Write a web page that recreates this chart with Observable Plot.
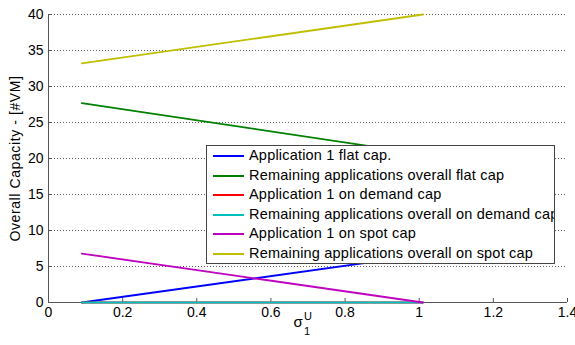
<!DOCTYPE html>
<html>
<head>
<meta charset="utf-8">
<script src="https://cdn.jsdelivr.net/npm/d3@7"></script>
<script src="https://cdn.jsdelivr.net/npm/@observablehq/plot@0.6"></script>
<style>
  html, body { margin: 0; padding: 0; background: #fff; }
  #wrap { position: relative; width: 575px; height: 345px; font-family: "Liberation Sans", Arial, sans-serif; }
  #legend { position: absolute; left: 206px; top: 145px; width: 347px; height: 117px;
    border: 1px solid #444; background: #fff; overflow: hidden; }
  .row { position: relative; height: 19.6px; line-height: 19.6px; white-space: nowrap; font-size: 14.5px; letter-spacing: 0.2px; color: #000; }
  .row .sw { position: absolute; left: 6px; top: 9px; width: 31px; height: 2px; }
  .row .lb { position: absolute; left: 42px; top: 0; }
</style>
</head>
<body>
<div id="wrap"><div id="legend"></div></div>
<script>
// ---- data ----
const sigmaX = [0.09, 1.01];
const seriesNames = [
  "Application 1 flat cap.",
  "Remaining applications overall flat cap",
  "Application 1 on demand cap",
  "Remaining applications overall on demand cap",
  "Application 1 on spot cap",
  "Remaining applications overall on spot cap"
];
const app1Flat = [0, 6.6];
const restFlat = [27.7, 20.6];
const app1OnDemand = [0, 0];
const restOnDemand = [0, 0];
const app1Spot = [6.8, 0];
const restSpot = [33.2, 40];
const seriesColors = ["#0000ff", "#008000", "#ff0000", "#00bfbf", "#bf00bf", "#bfbf00"];
const xTicks = [0, 0.2, 0.4, 0.6, 0.8, 1, 1.2, 1.4];
const yTicks = [0, 5, 10, 15, 20, 25, 30, 35, 40];
const yLabel = "Overall Capacity - [#VM]";

// ---- build table ----
const allSeries = [app1Flat, restFlat, app1OnDemand, restOnDemand, app1Spot, restSpot];
const rows = [];
allSeries.forEach((vals, i) => vals.forEach((v, j) => rows.push({series: seriesNames[i], x: sigmaX[j], y: v})));

const font = "'Liberation Sans', Arial, sans-serif";
const chart = Plot.plot({
  width: 575, height: 345,
  marginLeft: 48, marginRight: 8, marginTop: 14, marginBottom: 43,
  style: {fontFamily: font, fontSize: "14px", background: "white", color: "#000", overflow: "visible"},
  x: {domain: [0, 1.4], label: null},
  y: {domain: [0, 40], label: null},
  color: {domain: seriesNames, range: seriesColors},
  marks: [
    Plot.gridY(yTicks, {stroke: "#333", strokeOpacity: 0.8, strokeDasharray: "1,2"}),
    Plot.ruleY([0], {stroke: "#555"}),
    Plot.ruleX([0], {stroke: "#555"}),
    Plot.tickX(xTicks, {x: d => d, insetTop: 284, stroke: "#555"}),
    Plot.tickY(yTicks, {y: d => d, insetRight: 515, stroke: "#555"}),
    Plot.axisX(xTicks, {tickSize: 0, tickPadding: 5, tickFormat: d => String(d), fontSize: 14, label: null}),
    Plot.axisY(yTicks, {tickSize: 0, tickPadding: 5, tickFormat: d => String(d), fontSize: 14, label: null}),
    Plot.line(rows, {x: "x", y: "y", z: "series", stroke: "series", strokeWidth: 1.8}),
    Plot.text([yLabel], {frameAnchor: "left", textAnchor: "middle", dx: -33, rotate: -90, fontSize: 14}),
    Plot.text(["σ"], {frameAnchor: "bottom", dx: -10, dy: 24, fontSize: 15}),
    Plot.text(["1"], {frameAnchor: "bottom", dx: -4, dy: 32, fontSize: 11, textAnchor: "start"}),
    Plot.text(["U"], {frameAnchor: "bottom", dx: -4, dy: 17, fontSize: 11, textAnchor: "start"})
  ]
});
d3.select(chart).selectAll("text").filter(function() { return this.textContent === yLabel; })
  .style("letter-spacing", "0.6px");
const wrap = document.getElementById("wrap");
wrap.insertBefore(chart, wrap.firstChild);

// legend
const legend = document.getElementById("legend");
seriesNames.forEach((name, i) => {
  const r = document.createElement("div");
  r.className = "row";
  r.innerHTML = `<span class="sw" style="background:${seriesColors[i]}"></span><span class="lb"></span>`;
  r.querySelector(".lb").textContent = name;
  legend.appendChild(r);
});
</script>
</body>
</html>
